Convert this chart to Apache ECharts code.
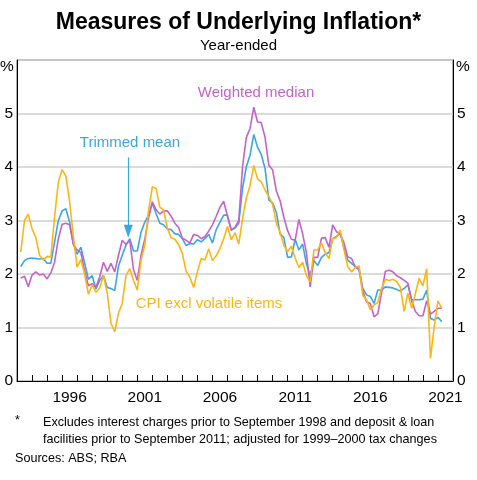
<!DOCTYPE html>
<html>
<head>
<meta charset="utf-8">
<script src="https://cdn.jsdelivr.net/npm/echarts@6/dist/echarts.min.js"></script>
<style>
html,body{margin:0;padding:0;background:#fff;}
#chart{width:477px;height:480px;}
</style>
</head>
<body>
<div id="chart"></div>
<script>
// Quarterly observations, first = March quarter 1993
const firstYear = 1993;
const cpiExclVolatile = [
  2.41, 3.0, 3.12, 2.85, 2.68, 2.35, 2.26, 2.33, 2.32, 3.07, 3.72, 3.95, 3.83, 3.35, 2.7, 2.13,
  2.27, 2.0, 1.62, 1.8, 1.66, 1.74, 1.97, 1.65, 1.08, 0.92, 1.27, 1.45, 1.97, 2.1, 1.88, 1.7,
  2.26, 2.54, 3.19, 3.63, 3.6, 3.25, 3.2, 2.86, 2.68, 2.65, 2.55, 2.38, 2.05, 1.94, 1.75, 2.04,
  2.29, 2.26, 2.47, 2.25, 2.34, 2.48, 2.66, 2.89, 2.64, 2.77, 2.56, 3.03, 3.42, 3.65, 4.03, 3.78,
  3.72, 3.57, 3.45, 3.3, 2.95, 2.78, 2.53, 2.42, 2.52, 2.3, 2.12, 2.22, 1.97, 1.85, 2.45, 2.45,
  2.58, 2.4, 2.29, 2.66, 2.68, 2.82, 2.45, 2.14, 2.04, 2.12, 2.15, 1.6, 1.52, 1.33, 1.42, 1.47,
  1.73, 1.9, 1.88, 1.9, 1.86, 1.75, 1.3, 1.64, 1.36, 1.64, 1.92, 1.78, 2.1, 0.42, 1.02, 1.5, 1.36
];
const trimmedMean = [
  2.14, 2.25, 2.29, 2.3, 2.29, 2.28, 2.29, 2.2, 2.2, 2.6, 3.0, 3.18, 3.22, 2.97, 2.56, 2.37,
  2.5, 2.2, 1.9, 1.97, 1.72, 1.88, 1.97, 1.75, 1.73, 1.69, 2.15, 2.35, 2.54, 2.66, 2.43, 2.43,
  2.78, 2.97, 3.1, 3.32, 3.13, 2.95, 2.92, 2.84, 2.83, 2.75, 2.74, 2.66, 2.53, 2.57, 2.56, 2.64,
  2.6, 2.66, 2.74, 2.58, 2.83, 2.97, 3.1, 3.1, 2.82, 2.86, 2.95, 3.6, 4.0, 4.22, 4.61, 4.37,
  4.23, 3.97, 3.38, 3.33, 3.15, 2.75, 2.68, 2.31, 2.32, 2.65, 2.45, 2.56, 2.19, 1.97, 2.25, 2.16,
  2.31, 2.37, 2.4, 2.66, 2.7, 2.76, 2.48, 2.26, 2.2, 2.14, 2.1, 1.73, 1.61, 1.58, 1.45, 1.7,
  1.7, 1.76, 1.75, 1.74, 1.71, 1.68, 1.73, 1.8, 1.52, 1.52, 1.52, 1.53, 1.7, 1.17, 1.14, 1.19, 1.11
];
const weightedMedian = [
  1.92, 1.96, 1.76, 1.98, 2.04, 1.98, 2.0, 1.91, 2.02, 2.22, 2.66, 2.93, 2.95, 2.92, 2.55, 2.45,
  2.4, 2.05, 1.78, 1.82, 1.75, 1.95, 2.22, 2.05, 2.2, 2.04, 2.35, 2.63, 2.55, 2.63, 2.08, 1.88,
  2.35, 2.65, 3.05, 3.35, 3.2, 3.12, 3.18, 3.18, 3.08, 2.95, 2.87, 2.67, 2.63, 2.58, 2.74, 2.72,
  2.66, 2.7, 2.8, 2.92, 3.08, 3.25, 3.36, 3.08, 2.82, 2.87, 3.0, 4.0, 4.55, 4.72, 5.12, 4.84,
  4.83, 4.55, 4.03, 3.95, 3.55, 3.37, 3.06, 2.81, 2.65, 2.63, 3.02, 2.75, 2.4, 1.76, 2.31, 2.31,
  2.67, 2.68, 2.5, 2.92, 2.79, 2.75, 2.58, 2.32, 2.29, 2.13, 2.08, 1.68, 1.48, 1.45, 1.2, 1.26,
  1.65, 2.05, 2.07, 2.04, 1.97, 1.93, 1.88, 1.83, 1.5, 1.3, 1.22, 1.22, 1.5, 1.25, 1.3, 1.36, 1.36
];
const yearLabels = [1996, 2001, 2006, 2011, 2016, 2021];
const yMin = 0, yMax = 6;
const xMin = 1993, xMax = 2022;

const FONT = 'Arial, "Liberation Sans", sans-serif';
const C_PURPLE = '#C462CC';
const C_BLUE = '#3BA6E2';
const C_ORANGE = '#FDB515';

function toPairs(arr) {
  return arr.map((v, i) => [firstYear + 0.25 * (i + 1), v]);
}

const chart = echarts.init(document.getElementById('chart'), null, {renderer: 'canvas'});
const labelAxisFormatter = v => {
  const y = (v - 1) / 2;
  return yearLabels.indexOf(y) >= 0 ? String(y) : '';
};
const yLabelFmt = v => (v === yMax ? '' : String(v));

chart.setOption({
  animation: false,
  backgroundColor: '#fff',
  textStyle: {fontFamily: FONT},
  grid: {left: 17, right: 24, top: 60, bottom: 99, show: true, borderColor: '#555', borderWidth: 1, z: 0},
  xAxis: [
    {
      type: 'value', min: xMin, max: xMax, interval: 1, position: 'bottom', z: 10,
      axisLine: {show: true, onZero: false, lineStyle: {color: '#000', width: 1.2}},
      axisTick: {show: true, inside: true, length: 6, lineStyle: {color: '#000', width: 1}},
      axisLabel: {show: false},
      splitLine: {show: false}
    },
    {
      type: 'value', min: xMin * 2, max: xMax * 2, interval: 1, position: 'bottom',
      axisLine: {show: false}, axisTick: {show: false}, splitLine: {show: false},
      axisLabel: {show: true, formatter: labelAxisFormatter, fontSize: 15.5, color: '#000', margin: 9, fontFamily: FONT}
    }
  ],
  yAxis: [
    {
      type: 'value', min: yMin, max: yMax, interval: 1, position: 'left',
      axisLine: {show: true, lineStyle: {color: '#000', width: 1}},
      axisTick: {show: false},
      axisLabel: {fontSize: 15.5, color: '#000', margin: 4, formatter: yLabelFmt, fontFamily: FONT},
      splitLine: {show: true, lineStyle: {color: '#cfcfcf', width: 1.5}}
    },
    {
      type: 'value', min: yMin, max: yMax, interval: 1, position: 'right',
      axisLine: {show: true, lineStyle: {color: '#000', width: 1}},
      axisTick: {show: false},
      axisLabel: {fontSize: 15.5, color: '#000', margin: 4, formatter: yLabelFmt, fontFamily: FONT},
      splitLine: {show: false}
    }
  ],
  series: [
    {
      name: 'Trimmed mean', type: 'line', data: toPairs(trimmedMean), showSymbol: false,
      lineStyle: {color: C_BLUE, width: 1.6}, itemStyle: {color: C_BLUE},
      markLine: {
        silent: true, symbol: ['none', 'triangle'], symbolSize: [9, 13], symbolRotate: 180,
        label: {show: false},
        lineStyle: {color: C_BLUE, width: 1.2, type: 'solid'},
        data: [[{coord: [2000.4, 4.18]}, {coord: [2000.4, 2.8]}]]
      }
    },
    {
      name: 'Weighted median', type: 'line', data: toPairs(weightedMedian), showSymbol: false,
      lineStyle: {color: C_PURPLE, width: 1.6}, itemStyle: {color: C_PURPLE}
    },
    {
      name: 'CPI excl volatile items', type: 'line', data: toPairs(cpiExclVolatile), showSymbol: false,
      lineStyle: {color: C_ORANGE, width: 1.6}, itemStyle: {color: C_ORANGE}
    }
  ],
  graphic: [
    {type: 'text', left: 'center', top: 11, style: {text: 'Measures of Underlying Inflation*', font: 'bold 23px ' + FONT, fill: '#000'}},
    {type: 'text', left: 'center', top: 38, style: {text: 'Year-ended', font: '15px ' + FONT, fill: '#000'}},
    {type: 'text', x: 0, y: 59, style: {text: '%', font: '15.5px ' + FONT, fill: '#000'}},
    {type: 'text', x: 456, y: 59, style: {text: '%', font: '15.5px ' + FONT, fill: '#000'}},
    {type: 'text', x: 256, y: 93, style: {text: 'Weighted median', font: '15px ' + FONT, fill: C_PURPLE, textAlign: 'center', textVerticalAlign: 'middle'}},
    {type: 'text', x: 130, y: 143, style: {text: 'Trimmed mean', font: '15px ' + FONT, fill: C_BLUE, textAlign: 'center', textVerticalAlign: 'middle'}},
    {type: 'text', x: 209, y: 304, style: {text: 'CPI excl volatile items', font: '15px ' + FONT, fill: C_ORANGE, textAlign: 'center', textVerticalAlign: 'middle'}},
    {type: 'text', x: 15, y: 414, style: {text: '*', font: '12.5px ' + FONT, fill: '#000'}},
    {type: 'text', x: 43, y: 416, style: {text: 'Excludes interest charges prior to September 1998 and deposit & loan', font: '12.6px ' + FONT, fill: '#000'}},
    {type: 'text', x: 43, y: 433, style: {text: 'facilities prior to September 2011; adjusted for 1999\u20132000 tax changes', font: '12.6px ' + FONT, fill: '#000'}},
    {type: 'text', x: 15, y: 452, style: {text: 'Sources: ABS; RBA', font: '12.6px ' + FONT, fill: '#000'}}
  ]
});
</script>
</body>
</html>
